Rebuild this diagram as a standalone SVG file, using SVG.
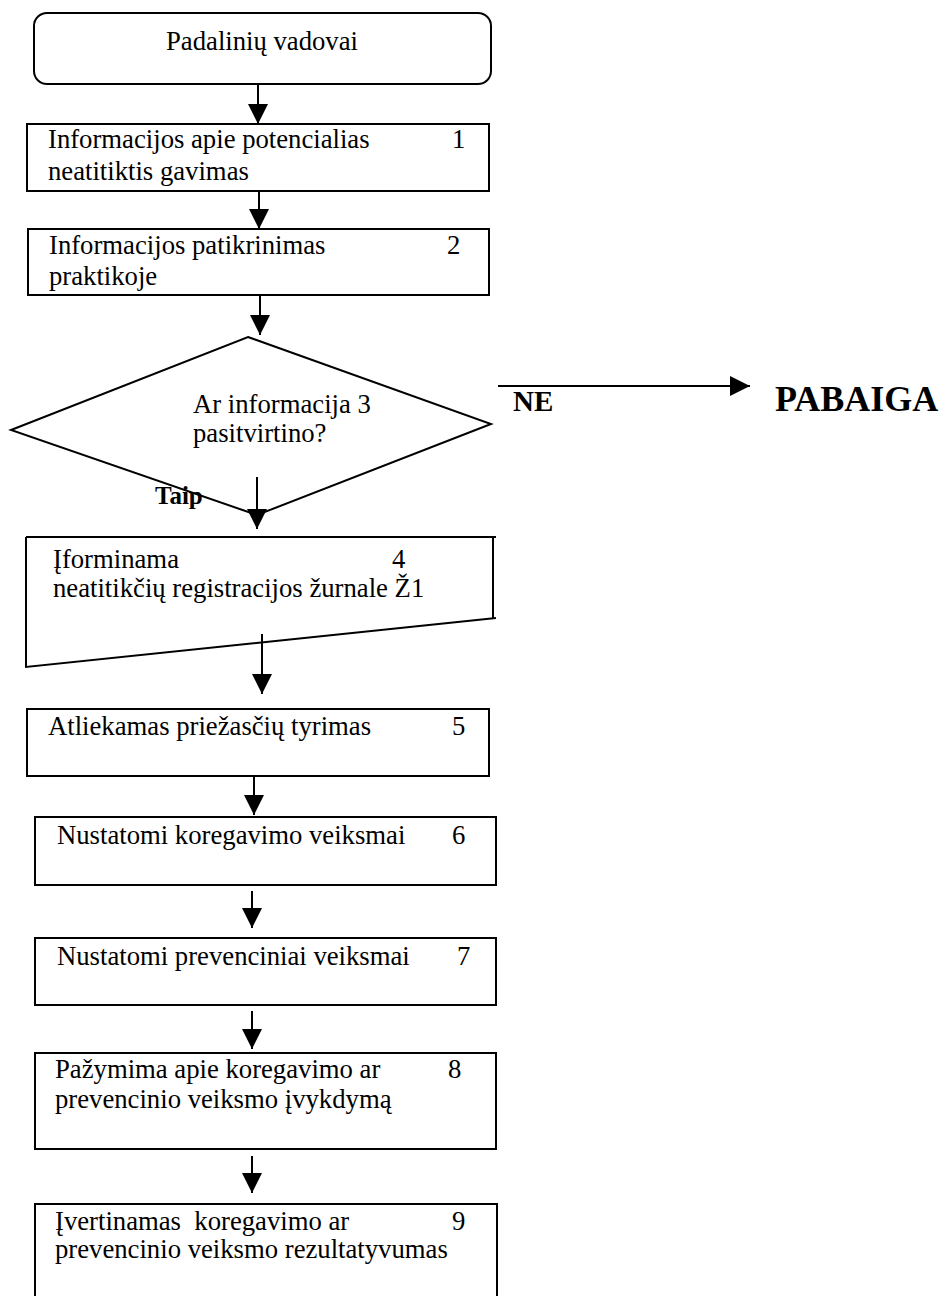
<svg xmlns="http://www.w3.org/2000/svg" width="946" height="1296" viewBox="0 0 946 1296">
  <defs>
    <style>
      .box { fill: #fff; stroke: #000; stroke-width: 2; }
      .line { fill: none; stroke: #000; stroke-width: 2; }
      .txt { font-family: "Liberation Serif", "Times New Roman", serif; font-size: 26.7px; fill: #000; white-space: pre; }
      .bold { font-weight: bold; }
    </style>
    <marker id="arrow" markerUnits="userSpaceOnUse" markerWidth="20" markerHeight="20" refX="20" refY="10" orient="auto">
      <path d="M0,0 L20,10 L0,20 Z" fill="#000"/>
    </marker>
  </defs>
  <rect width="946" height="1296" fill="#fff"/>

  <!-- start node -->
  <g id="start">
    <rect class="box" x="34" y="13" width="457" height="71" rx="13" ry="13"/>
    <text class="txt" x="262" y="50" text-anchor="middle">Padalinių vadovai</text>
  </g>

  <g id="step1">
    <rect class="box" x="27" y="124" width="462" height="67"/>
    <text class="txt" x="48" y="148">Informacijos apie potencialias</text>
    <text class="txt" x="48" y="180">neatitiktis gavimas</text>
    <text class="txt" x="452" y="148">1</text>
  </g>

  <g id="step2">
    <rect class="box" x="28" y="229" width="461" height="66"/>
    <text class="txt" x="49" y="254">Informacijos patikrinimas</text>
    <text class="txt" x="49" y="285">praktikoje</text>
    <text class="txt" x="447" y="254">2</text>
  </g>

  <g id="decision3">
    <polygon class="box" points="248,337 491,424 257,515 11,430"/>
    <text class="txt" x="193" y="413">Ar informacija 3</text>
    <text class="txt" x="193" y="442">pasitvirtino?</text>
  </g>

  <g id="end">
    <text class="txt bold" x="775" y="411" style="font-size:36px">PABAIGA</text>
  </g>

  <g id="step4">
    <path class="line" d="M26,537 L496,537 M493,537 L493,618 M496,618 L26,667 L26,537"/>
    <text class="txt" x="53" y="568">Įforminama</text>
    <text class="txt" x="53" y="597">neatitikčių registracijos žurnale Ž1</text>
    <text class="txt" x="392" y="568">4</text>
  </g>

  <g id="step5">
    <rect class="box" x="27" y="709" width="462" height="67"/>
    <text class="txt" x="48" y="735">Atliekamas priežasčių tyrimas</text>
    <text class="txt" x="452" y="735">5</text>
  </g>

  <g id="step6">
    <rect class="box" x="35" y="817" width="461" height="68"/>
    <text class="txt" x="57" y="844">Nustatomi koregavimo veiksmai</text>
    <text class="txt" x="452" y="844">6</text>
  </g>

  <g id="step7">
    <rect class="box" x="35" y="938" width="461" height="67"/>
    <text class="txt" x="57" y="965">Nustatomi prevenciniai veiksmai</text>
    <text class="txt" x="457" y="965">7</text>
  </g>

  <g id="step8">
    <rect class="box" x="35" y="1053" width="461" height="96"/>
    <text class="txt" x="55" y="1078">Pažymima apie koregavimo ar</text>
    <text class="txt" x="55" y="1108">prevencinio veiksmo įvykdymą</text>
    <text class="txt" x="448" y="1078">8</text>
  </g>

  <g id="step9">
    <rect class="box" x="35" y="1204" width="462" height="110"/>
    <text class="txt" x="55" y="1230">Įvertinamas  koregavimo ar</text>
    <text class="txt" x="55" y="1258">prevencinio veiksmo rezultatyvumas</text>
    <text class="txt" x="452" y="1230">9</text>
  </g>

  <!-- connectors -->
  <g id="connectors">
    <line class="line" x1="258" y1="84" x2="258" y2="124" marker-end="url(#arrow)"/>
    <line class="line" x1="259" y1="191" x2="259" y2="229" marker-end="url(#arrow)"/>
    <line class="line" x1="260" y1="295" x2="260" y2="335" marker-end="url(#arrow)"/>
    <line class="line" x1="498" y1="386" x2="750" y2="386" marker-end="url(#arrow)"/>
    <text class="txt bold" x="513" y="411" style="font-size:29px">NE</text>
    <line class="line" x1="257" y1="477" x2="257" y2="529" marker-end="url(#arrow)"/>
    <text class="txt bold" x="155" y="504" style="font-size:25px">Taip</text>
    <line class="line" x1="262" y1="634" x2="262" y2="694" marker-end="url(#arrow)"/>
    <line class="line" x1="254" y1="776" x2="254" y2="815" marker-end="url(#arrow)"/>
    <line class="line" x1="252" y1="891" x2="252" y2="928" marker-end="url(#arrow)"/>
    <line class="line" x1="252" y1="1011" x2="252" y2="1049" marker-end="url(#arrow)"/>
    <line class="line" x1="252" y1="1156" x2="252" y2="1193" marker-end="url(#arrow)"/>
  </g>
</svg>
